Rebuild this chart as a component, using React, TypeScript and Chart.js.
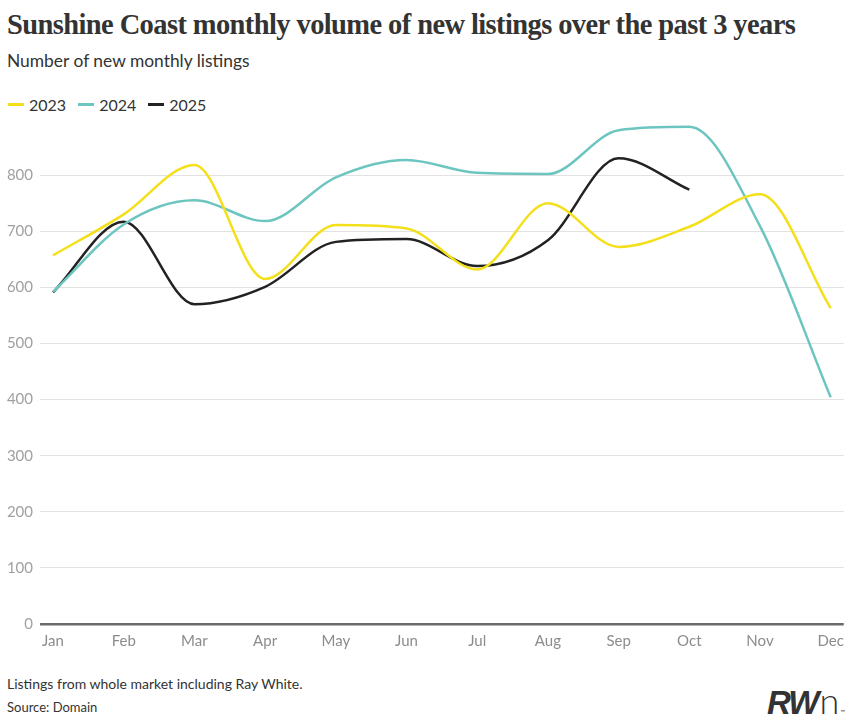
import React, { useEffect, useRef } from "react";
import { Chart, registerables } from "chart.js";

Chart.register(...registerables);

const months = ["Jan", "Feb", "Mar", "Apr", "May", "Jun", "Jul", "Aug", "Sep", "Oct", "Nov", "Dec"];
const series2023 = [657, 730, 818, 615, 711, 705, 632, 750, 672, 708, 766, 563];
const series2024 = [592, 712, 755, 718, 796, 827, 804, 802, 880, 886, 709, 404];
const series2025 = [591, 717, 570, 601, 681, 686, 638, 684, 830, 774];
const yTicks = [0, 100, 200, 300, 400, 500, 600, 700, 800];

const colors = { y2023: "#F4DF1B", y2024: "#6DC5C0", y2025: "#222222" };

const legendItems = [
  { label: "2023", color: colors.y2023 },
  { label: "2024", color: colors.y2024 },
  { label: "2025", color: colors.y2025 },
];

export default function App() {
  const canvasRef = useRef<HTMLCanvasElement | null>(null);

  useEffect(() => {
    document.body.style.margin = "0";
    const canvas = canvasRef.current;
    if (!canvas) return;
    const toPts = (arr: number[]) => arr.map((v, i) => ({ x: i, y: v }));
    const chart = new Chart(canvas, {
      type: "line",
      data: {
        datasets: [
          { label: "2023", data: toPts(series2023), borderColor: colors.y2023, backgroundColor: colors.y2023, borderWidth: 2.5, pointRadius: 0, cubicInterpolationMode: "monotone", fill: false },
          { label: "2024", data: toPts(series2024), borderColor: colors.y2024, backgroundColor: colors.y2024, borderWidth: 2.5, pointRadius: 0, cubicInterpolationMode: "monotone", fill: false },
          { label: "2025", data: toPts(series2025), borderColor: colors.y2025, backgroundColor: colors.y2025, borderWidth: 2.5, pointRadius: 0, cubicInterpolationMode: "monotone", fill: false },
        ],
      },
      options: {
        animation: false,
        responsive: false,
        maintainAspectRatio: false,
        layout: { padding: { top: 2, right: 7, left: 0, bottom: 0 } },
        plugins: { legend: { display: false }, tooltip: { enabled: false }, title: { display: false } },
        scales: {
          x: {
            type: "linear",
            min: -0.184,
            max: 11.184,
            grid: { display: false, drawTicks: false },
            border: { display: false },
            afterBuildTicks: (scale: any) => {
              scale.ticks = months.map((_, i) => ({ value: i }));
            },
            afterFit: (scale: any) => {
              scale.height = 46;
            },
            ticks: {
              autoSkip: false,
              maxRotation: 0,
              padding: 8,
              color: "#8c8c8c",
              font: { family: "Lato", size: 15 },
              callback: (v: any) => months[Math.round(Number(v))] ?? "",
            },
          },
          y: {
            type: "linear",
            min: 0,
            max: 900,
            afterBuildTicks: (scale: any) => {
              scale.ticks = yTicks.map((v) => ({ value: v }));
            },
            afterFit: (scale: any) => {
              scale.width = 40;
            },
            grid: {
              drawTicks: false,
              color: (ctx: any) => (ctx.tick && ctx.tick.value === 0 ? "#6a6a6a" : "#e2e2e2"),
              lineWidth: (ctx: any) => (ctx.tick && ctx.tick.value === 0 ? 2.5 : 1),
            },
            border: { display: false },
            ticks: {
              padding: 7,
              color: "#a0a0a0",
              font: { family: "Lato", size: 15 },
            },
          },
        },
      },
    });
    return () => chart.destroy();
  }, []);

  return (
    <div style={{ position: "relative", width: 852, height: 720, background: "#fff", overflow: "hidden", fontFamily: "Lato, sans-serif", color: "#333" }}>
      <div style={{ position: "absolute", left: 7, top: 5, fontFamily: "'Liberation Serif', serif", fontWeight: 700, fontSize: 28.5, lineHeight: "40px", color: "#333", whiteSpace: "nowrap", letterSpacing: "-0.6px" }}>
        Sunshine Coast monthly volume of new listings over the past 3 years
      </div>
      <div style={{ position: "absolute", left: 7, top: 50, fontSize: 17.4, lineHeight: "22px", color: "#333", whiteSpace: "nowrap" }}>
        Number of new monthly listings
      </div>
      <div style={{ position: "absolute", left: 8, top: 94, height: 20, display: "flex", alignItems: "center", fontSize: 16, color: "#333" }}>
        {legendItems.map((it) => (
          <div key={it.label} style={{ display: "flex", alignItems: "center", marginRight: 12 }}>
            <span style={{ display: "inline-block", width: 16, height: 3, background: it.color, marginRight: 5 }} />
            <span>{it.label}</span>
          </div>
        ))}
      </div>
      <canvas ref={canvasRef} width={852} height={567} style={{ position: "absolute", left: 0, top: 103, width: 852, height: 567 }} />
      <div style={{ position: "absolute", left: 7, top: 675, fontSize: 14, lineHeight: "18px", color: "#333", whiteSpace: "nowrap" }}>
        Listings from whole market including Ray White.
      </div>
      <div style={{ position: "absolute", left: 7, top: 699, fontSize: 13, lineHeight: "16px", color: "#333", whiteSpace: "nowrap" }}>
        Source: Domain
      </div>
      <div style={{ position: "absolute", left: 767, top: 682, height: 36, display: "flex", alignItems: "baseline", color: "#333", whiteSpace: "nowrap" }}>
        <span style={{ fontFamily: "'Liberation Sans', Arial, sans-serif", fontWeight: 700, fontStyle: "italic", fontSize: 33, letterSpacing: "-2px", lineHeight: "36px" }}>RW</span>
        <span style={{ fontFamily: "Lato, sans-serif", fontWeight: 300, fontSize: 36, lineHeight: "36px", marginLeft: 2 }}>n</span>
        <span style={{ fontFamily: "Lato, sans-serif", fontSize: 6, marginLeft: 1 }}>™</span>
      </div>
    </div>
  );
}
